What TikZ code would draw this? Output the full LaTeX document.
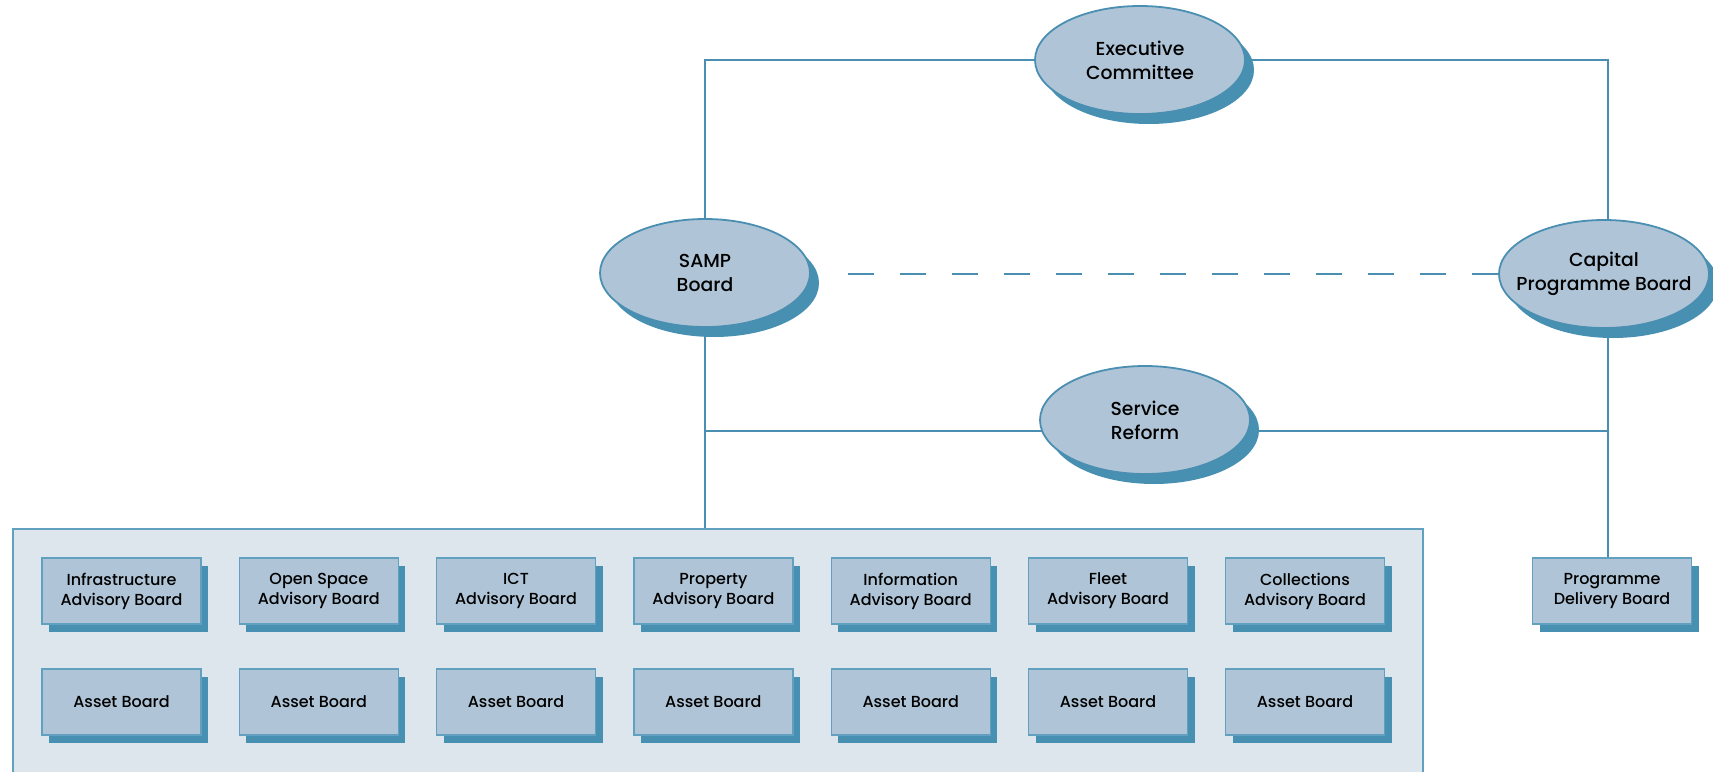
\documentclass[tikz,border=0pt]{standalone}
\usepackage{fontspec}
\setmainfont{Poppins}[UprightFont=* Medium]
\usepackage{tikz}
\usetikzlibrary{shapes,shadows,backgrounds}
\definecolor{boardfill}{HTML}{AFC5D7}
\definecolor{boardline}{HTML}{4A8FB1}
\definecolor{boxline}{HTML}{62A0C0}
\definecolor{boardshade}{HTML}{4790B2}
\definecolor{groupfill}{HTML}{DDE5ED}
\tikzstyle{board}=[ellipse,draw=boardline,line width=1.8pt,fill=boardfill,minimum width=210pt,minimum height=108pt,align=center,font=\fontsize{18.8}{24}\selectfont,drop shadow={shadow xshift=9pt,shadow yshift=-10pt,fill=boardshade,opacity=1}]
\tikzstyle{advisory}=[rectangle,draw=boxline,line width=1.3pt,fill=boardfill,minimum width=159pt,minimum height=66pt,align=center,font=\fontsize{16}{20}\selectfont,drop shadow={shadow xshift=7pt,shadow yshift=-8pt,fill=boardshade,opacity=1}]
\tikzstyle{group}=[rectangle,draw=boxline,line width=1.8pt,fill=groupfill,anchor=north west,minimum width=1410pt,minimum height=270pt]
\tikzstyle{link}=[draw=boardline,line width=2pt]

\begin{document}
\begin{tikzpicture}[x=1pt,y=-1pt]
        \useasboundingbox (0,0) rectangle (1713,771);
        % committees
        \node[board] (exec) at (1140,60) {Executive\\Committee};
        \node[board] (samp) at (705,273) {SAMP\\Board};
        \node[board] (capital) at (1604,274) {Capital\\\makebox[0pt]{Programme Board}};
        \node[board] (reform) at (1145,420) {Service\\Reform};
        \coordinate (rjoin) at (705,431);
        \coordinate (rtrunk) at (1608,431);
        \coordinate (dashend) at (847,274);
        % advisory and asset boards
        \node[group] (boards) at (12,528) {};
        \node[advisory] (infra) at (121.5,591) {Infrastructure\\Advisory Board};
        \node[advisory] (openspace) at (318.8,591) {Open Space\\Advisory Board};
        \node[advisory] (ict) at (516,591) {ICT\\Advisory Board};
        \node[advisory] (property) at (713.4,591) {Property\\Advisory Board};
        \node[advisory] (information) at (910.7,591) {Information\\Advisory Board};
        \node[advisory] (fleet) at (1108,591) {Fleet\\Advisory Board};
        \node[advisory] (collections) at (1305,591) {Collections\\Advisory Board};
        \node[advisory] (asset1) at (121.5,702) {Asset Board};
        \node[advisory] (asset2) at (318.8,702) {Asset Board};
        \node[advisory] (asset3) at (516,702) {Asset Board};
        \node[advisory] (asset4) at (713.4,702) {Asset Board};
        \node[advisory] (asset5) at (910.7,702) {Asset Board};
        \node[advisory] (asset6) at (1108,702) {Asset Board};
        \node[advisory] (asset7) at (1305,702) {Asset Board};
        \node[advisory] (delivery) at (1612,591) {Programme\\Delivery Board};
        % connectors
        \begin{scope}[on background layer]
            \draw[link] (samp) |- (exec) -| (rtrunk |- capital);
            \draw[link] (samp) -- (samp |- boards.north);
            \draw[link] (rjoin) -- (rtrunk);
            \draw[link] (rtrunk |- capital) -- (rtrunk |- delivery.north);
        \end{scope}
        \draw[link,dash pattern=on 26pt off 26pt] (capital.west) -- (capital.west -| dashend);
\end{tikzpicture}
\end{document}
